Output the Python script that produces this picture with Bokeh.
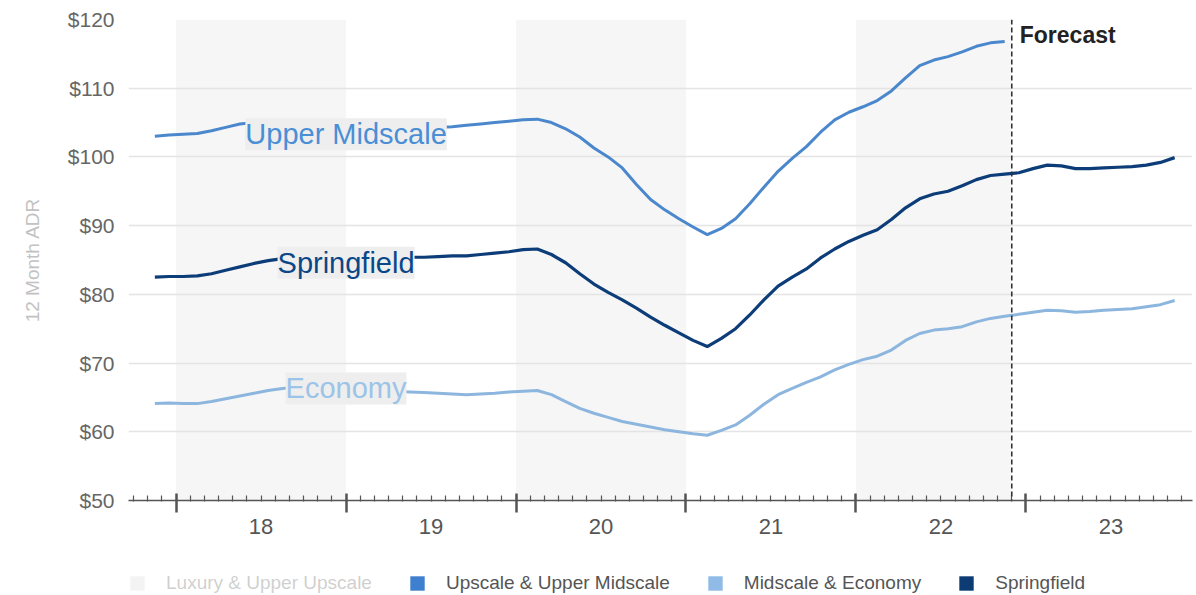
import pandas as pd
from bokeh.plotting import figure
from bokeh.layouts import column
from bokeh.models import (Range1d, FixedTicker, LinearAxis, CustomJSTickFormatter,
                          NumeralTickFormatter, Span, Label, Legend, LegendItem)
from bokeh.embed import file_html
from bokeh.resources import INLINE

# ---------------- data ----------------
months = [pr.strftime("%Y-%m") for pr in pd.period_range("2017-11", periods=73, freq="M")]

upper_midscale = [103.0, 103.2, 103.3, 103.4, 103.8, 104.3, 104.8, 105.0, 105.1, 105.0,
                  104.9, 104.8, 104.7, 104.6, 104.5, 104.4, 104.3, 104.3, 104.2, 104.2,
                  104.3, 104.4, 104.6, 104.8, 105.0, 105.2, 105.4, 105.5, 105.0, 104.1,
                  102.9, 101.3, 100.0, 98.4, 96.0, 93.8, 92.3, 91.0, 89.8, 88.7,
                  89.6, 91.0, 93.2, 95.6, 97.9, 99.8, 101.5, 103.6, 105.4, 106.5,
                  107.3, 108.2, 109.6, 111.5, 113.3, 114.1, 114.6, 115.3, 116.1, 116.6, 116.8]

springfield = [82.5, 82.6, 82.6, 82.7, 83.0, 83.5, 84.0, 84.5, 84.9, 85.2,
               85.4, 85.5, 85.5, 85.5, 85.5, 85.4, 85.4, 85.4, 85.4, 85.4,
               85.5, 85.6, 85.6, 85.8, 86.0, 86.2, 86.5, 86.6, 85.8, 84.6,
               83.0, 81.5, 80.3, 79.2, 78.0, 76.7, 75.5, 74.4, 73.3, 72.4,
               73.6, 75.0, 77.0, 79.2, 81.2, 82.5, 83.7, 85.3, 86.6, 87.7,
               88.6, 89.4, 90.9, 92.6, 93.9, 94.6, 95.0, 95.8, 96.7, 97.3,
               97.5, 97.7, 98.3, 98.8, 98.7, 98.3, 98.3, 98.4, 98.5, 98.6,
               98.8, 99.2, 99.9]

economy = [64.1, 64.2, 64.1, 64.1, 64.4, 64.8, 65.2, 65.6, 66.0, 66.3,
           66.5, 66.5, 66.4, 66.3, 66.2, 66.1, 66.0, 65.9, 65.8, 65.7,
           65.6, 65.5, 65.4, 65.5, 65.6, 65.8, 65.9, 66.0, 65.4, 64.4,
           63.4, 62.7, 62.1, 61.5, 61.1, 60.7, 60.3, 60.0, 59.7, 59.5,
           60.2, 61.0, 62.4, 64.0, 65.4, 66.3, 67.2, 68.0, 69.0, 69.8,
           70.5, 71.0, 71.9, 73.3, 74.3, 74.8, 75.0, 75.3, 76.0, 76.5,
           76.8, 77.1, 77.4, 77.7, 77.6, 77.4, 77.5, 77.7, 77.8, 77.9,
           78.2, 78.5, 79.1]

years = [2018, 2019, 2020, 2021, 2022, 2023]
year_labels = ["18", "19", "20", "21", "22", "23"]
shaded_years = [2018, 2020, 2022]
forecast_start = "2022-12"
y_ticks = [50, 60, 70, 80, 90, 100, 110, 120]
legend_labels = ["Luxury & Upper Upscale", "Upscale & Upper Midscale", "Midscale & Economy", "Springfield"]
series_labels = ["Upper Midscale", "Springfield", "Economy"]

# ---------------- helpers ----------------
def month_start(m):
    y, mo = m.split("-")
    return int(y) + (int(mo) - 1) / 12.0

def month_mid(m):
    return month_start(m) + 0.5 / 12.0

x_all = [month_mid(m) for m in months]
forecast_x = month_start(forecast_start)
minor = [month_start(pr.strftime("%Y-%m")) for pr in pd.period_range("2017-10", "2023-12", freq="M")]

FONT = "Liberation Sans"

p = figure(width=1196, height=555, output_backend="svg", toolbar_location=None,
           x_range=Range1d(2017.72, 2023.98), y_range=Range1d(50, 120),
           min_border_left=128, min_border_right=4, min_border_top=19, min_border_bottom=55,
           background_fill_color="white", border_fill_color="white", outline_line_color=None)

# alternating year shading
band_left = shaded_years
band_right = [min(y + 1, forecast_x) for y in shaded_years]
p.quad(left=band_left, right=band_right, bottom=y_ticks[0], top=y_ticks[-1],
       fill_color="#f6f6f6", line_color=None, level="image")

# series lines
p.line(x_all[:len(upper_midscale)], upper_midscale, line_width=3, line_color="#4a87cc")
p.line(x_all, economy, line_width=3, line_color="#8db6df")
p.line(x_all, springfield, line_width=3.2, line_color="#0d3d78")

# forecast divider
p.add_layout(Span(location=forecast_x, dimension="height", line_color="#333333",
                  line_width=1.6, line_dash="5 3"))
p.add_layout(Label(x=forecast_x, y=y_ticks[-1], x_offset=8, y_offset=-2, text="Forecast",
                   text_font=FONT, text_font_style="bold", text_font_size="23px",
                   text_color="#222222", text_baseline="top", text_align="left"))

# series labels
lab_specs = [(series_labels[0], 103.3, "#4a8fd6"),
             (series_labels[1], 84.6, "#0a4789"),
             (series_labels[2], 66.3, "#9cc3e8")]
for txt, yv, col in lab_specs:
    p.add_layout(Label(x=2019.0, y=yv, text=txt, text_font=FONT, text_font_size="29px",
                       text_color=col, text_align="center", text_baseline="middle",
                       background_fill_color="#eeeeee", background_fill_alpha=1.0))

# y axis
ya = p.yaxis[0]
ya.ticker = FixedTicker(ticks=y_ticks)
ya.formatter = NumeralTickFormatter(format="$0")
ya.axis_line_color = None
ya.major_tick_line_color = None
ya.minor_tick_line_color = None
ya.major_label_standoff = 8
ya.major_label_text_font = FONT
ya.major_label_text_font_size = "21px"
ya.major_label_text_color = "#666666"
ya.axis_label = "12 Month ADR"
ya.axis_label_text_font = FONT
ya.axis_label_text_font_style = "normal"
ya.axis_label_text_font_size = "19px"
ya.axis_label_text_color = "#c2c2c2"
ya.axis_label_standoff = 22

p.xgrid.grid_line_color = None
p.ygrid.grid_line_color = "#e4e4e4"
p.ygrid.grid_line_width = 1.5

# x tick axis (year boundaries + months), no labels
xa = p.xaxis[0]
xa.ticker = FixedTicker(ticks=years, minor_ticks=minor)
xa.formatter = CustomJSTickFormatter(code="return '';")
xa.axis_line_color = "#555555"
xa.axis_line_width = 1.5
xa.major_tick_line_color = "#555555"
xa.major_tick_line_width = 2.5
xa.major_tick_in = 7
xa.major_tick_out = 12
xa.minor_tick_line_color = "#555555"
xa.minor_tick_line_width = 1.2
xa.minor_tick_in = 5
xa.minor_tick_out = 1
xa.major_label_standoff = 0
xa.major_label_text_font_size = "2px"

# x label axis (centered year labels)
label_axis = LinearAxis(ticker=FixedTicker(ticks=[y + 0.5 for y in years]),
                        formatter=CustomJSTickFormatter(args=dict(labels=year_labels, first=years[0]),
                                                        code="return labels[Math.floor(tick) - first];"))
label_axis.axis_line_color = None
label_axis.major_tick_line_color = None
label_axis.minor_tick_line_color = None
label_axis.major_label_standoff = 0
label_axis.major_label_text_font = FONT
label_axis.major_label_text_font_size = "22px"
label_axis.major_label_text_color = "#555555"
p.add_layout(label_axis, "below")

# ---------------- legend strip ----------------
lg = figure(width=1196, height=40, output_backend="svg", toolbar_location=None,
            x_range=Range1d(0, 1), y_range=Range1d(0, 1),
            x_axis_location=None, y_axis_location=None,
            min_border=0, outline_line_color=None,
            background_fill_color="white", border_fill_color="white")
lg.grid.visible = False

swatch_colors = ["#d4d4d4", "#3f7fcf", "#8fbbe6", "#0d3b73"]
items = []
for lab, col in zip(legend_labels, swatch_colors):
    # zero-area placeholder glyph: only its legend swatch is seen
    r = lg.quad(left=[0], right=[0], top=[0], bottom=[0], fill_color=col, line_color=None)
    items.append(LegendItem(label=lab, renderers=[r]))
items[0].renderers[0].visible = False

legend = Legend(items=items, orientation="horizontal", location=(0, 1), click_policy="hide",
                glyph_width=18, glyph_height=18, label_standoff=20, spacing=36,
                padding=0, margin=0, label_text_font=FONT, label_text_font_size="19px",
                label_text_color="#555555", background_fill_alpha=0, border_line_color=None,
                inactive_fill_color="white", inactive_fill_alpha=0.72)
lg.add_layout(legend)

layout = column(p, lg, spacing=0)
open("out.html", "w").write(file_html(layout, INLINE))
